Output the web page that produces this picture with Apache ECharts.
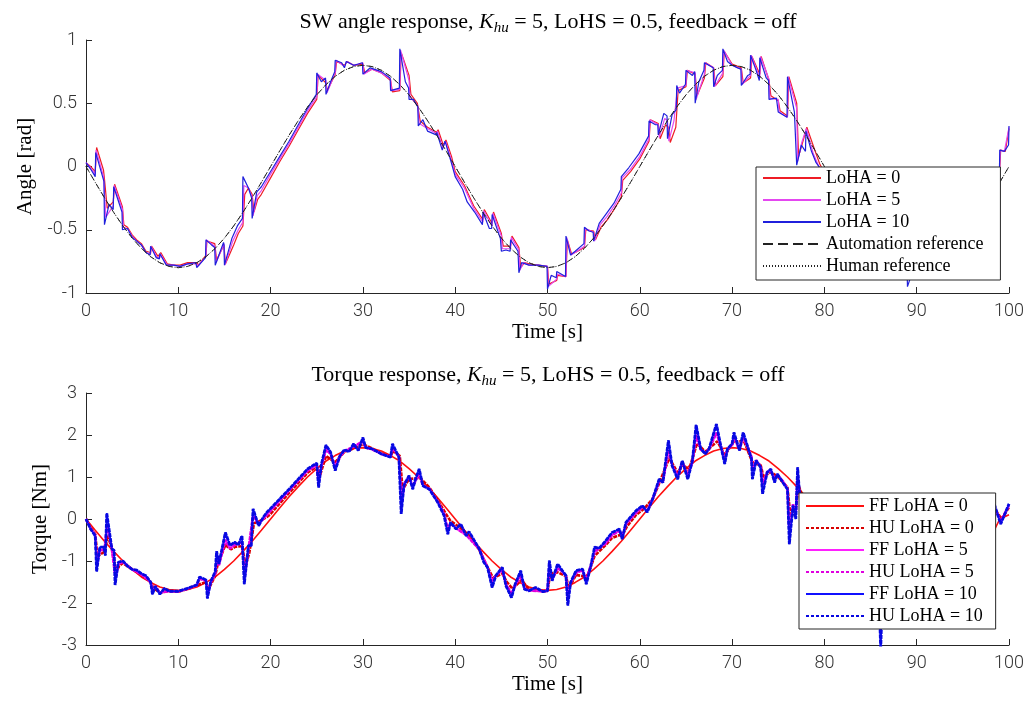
<!DOCTYPE html>
<html>
<head>
<meta charset="utf-8">
<script src="https://cdn.jsdelivr.net/npm/echarts@6.0.0/dist/echarts.min.js"></script>
<style>
  html, body { margin: 0; padding: 0; background: #fff; }
  #chart { width: 1030px; height: 702px; }
</style>
</head>
<body>
<div id="chart"></div>
<script>
// ---- data ----
// 1 s grid for the reference curves
const timeGrid = Array.from({ length: 101 }, (_, i) => i);

const angleRef = [
  0, -0.125, -0.247, -0.363, -0.470, -0.566, -0.647, -0.713, -0.761, -0.790, -0.800,
  -0.790, -0.761, -0.713, -0.647, -0.566, -0.470, -0.363, -0.247, -0.125, 0,
  0.125, 0.247, 0.363, 0.470, 0.566, 0.647, 0.713, 0.761, 0.790, 0.800,
  0.790, 0.761, 0.713, 0.647, 0.566, 0.470, 0.363, 0.247, 0.125, 0,
  -0.125, -0.247, -0.363, -0.470, -0.566, -0.647, -0.713, -0.761, -0.790, -0.800,
  -0.790, -0.761, -0.713, -0.647, -0.566, -0.470, -0.363, -0.247, -0.125, 0,
  0.125, 0.247, 0.363, 0.470, 0.566, 0.647, 0.713, 0.761, 0.790, 0.800,
  0.790, 0.761, 0.713, 0.647, 0.566, 0.470, 0.363, 0.247, 0.125, 0,
  -0.125, -0.247, -0.363, -0.470, -0.566, -0.647, -0.713, -0.761, -0.790, -0.800,
  -0.790, -0.761, -0.713, -0.647, -0.566, -0.470, -0.363, -0.247, -0.125, 0
];

// [time, angle]
const angleLoHA10 = [
  [0,0.03],[0.5,-0.02],[1,-0.08],[1.05,0.11],[1.95,-0.12],[2,-0.46],[2.5,-0.30],[2.95,-0.34],[3,-0.16],
  [3.9,-0.36],[3.95,-0.50],[4.5,-0.49],[5,-0.56],[5.5,-0.59],[6,-0.62],[6.5,-0.68],[6.95,-0.70],[7,-0.63],
  [7.6,-0.72],[7.95,-0.73],[8,-0.69],[8.7,-0.78],[9.5,-0.78],[10.2,-0.79],[11,-0.77],[11.9,-0.76],[12,-0.80],
  [12.95,-0.72],[13,-0.58],[13.6,-0.62],[13.95,-0.64],[14,-0.78],[14.9,-0.60],[14.95,-0.62],[15,-0.78],
  [15.8,-0.57],[16.4,-0.47],[16.95,-0.41],[17,-0.08],[17.6,-0.17],[17.95,-0.25],[18,-0.41],[18.5,-0.20],
  [19,-0.16],[20,-0.04],[21,0.08],[22,0.20],[23,0.33],[24,0.46],[24.95,0.57],[25,0.74],[25.5,0.67],
  [25.95,0.70],[26,0.57],[26.5,0.67],[26.95,0.75],[27,0.84],[27.7,0.82],[28,0.78],[28.2,0.83],[29,0.80],
  [29.5,0.81],[29.95,0.82],[30,0.73],[30.8,0.78],[32,0.75],[32.95,0.70],[33,0.60],[33.95,0.62],[34,0.93],
  [34.6,0.67],[34.95,0.62],[35,0.53],[35.5,0.53],[35.95,0.47],[36,0.32],[36.5,0.37],[37,0.28],[37.95,0.25],
  [38,0.27],[38.6,0.13],[38.9,0.20],[39.5,0.05],[40,-0.08],[40.8,-0.18],[41.3,-0.28],[42.1,-0.36],
  [42.95,-0.46],[43,-0.36],[43.7,-0.49],[43.95,-0.49],[44,-0.38],[44.9,-0.57],[45,-0.67],[45.5,-0.66],
  [45.95,-0.67],[46,-0.58],[46.8,-0.67],[46.9,-0.84],[47.2,-0.76],[48,-0.78],[49,-0.78],[49.95,-0.79],
  [50,-0.97],[50.4,-0.86],[50.95,-0.88],[51,-0.83],[51.95,-0.87],[52,-0.55],[52.5,-0.70],[53,-0.67],
  [53.95,-0.61],[54,-0.48],[54.5,-0.51],[54.95,-0.52],[55,-0.59],[55.6,-0.45],[56.3,-0.38],[57.2,-0.29],
  [57.95,-0.18],[58,-0.08],[58.8,-0.01],[59.9,0.10],[60.95,0.24],[61,0.36],[61.7,0.33],[61.95,0.33],
  [62,0.25],[62.6,0.42],[62.95,0.40],[63,0.22],[63.5,0.41],[63.95,0.45],[64,0.64],[64.3,0.58],[64.95,0.65],
  [65,0.76],[65.7,0.72],[65.95,0.75],[66,0.50],[66.4,0.67],[66.95,0.76],[67,0.82],[67.95,0.78],[68,0.63],
  [68.4,0.72],[68.95,0.76],[69,0.93],[69.5,0.83],[70,0.80],[70.6,0.78],[70.95,0.77],[71,0.64],[71.7,0.72],
  [71.95,0.73],[72,0.88],[72.6,0.76],[72.95,0.68],[73,0.86],[73.7,0.70],[73.95,0.68],[74,0.53],[74.8,0.54],
  [74.95,0.54],[75,0.43],[75.95,0.39],[76,0.71],[76.75,0.43],[76.95,0.42],[77,0.01],[77.5,0.17],[77.95,0.12],
  [78,0.28],[78.6,0.12],[79.1,0.03],[80,-0.06],[81,-0.15],[82,-0.25],[83,-0.36],[84,-0.47],[85,-0.56],
  [86,-0.64],[87,-0.71],[88,-0.76],[88.95,-0.78],[89,-0.95],[89.5,-0.84],[90,-0.79],[91,-0.78],[92,-0.75],
  [93,-0.70],[94,-0.64],[95,-0.56],[96,-0.46],[97,-0.35],[98,-0.24],[98.95,-0.10],[99,0.13],[99.5,0.12],
  [99.95,0.17],[100,0.32]
];

const angleLoHA5 = [
  [0,0.03],[0.5,-0.01],[1,-0.06],[1.1,0.13],[1.9,-0.08],[2,-0.20],[2.15,-0.40],[2.95,-0.31],[3.05,-0.15],
  [3.95,-0.34],[4.05,-0.48],[4.5,-0.49],[5,-0.55],[5.5,-0.59],[6,-0.62],[6.5,-0.68],[7,-0.69],[7.05,-0.63],
  [7.7,-0.72],[8,-0.72],[8.05,-0.69],[8.8,-0.78],[9.5,-0.78],[10.2,-0.79],[11,-0.77],[12,-0.77],[12.1,-0.79],
  [13,-0.71],[13.05,-0.58],[13.95,-0.63],[14.1,-0.76],[14.95,-0.61],[15.05,-0.78],[15.9,-0.59],[16.5,-0.50],
  [17,-0.44],[17.1,-0.15],[17.6,-0.17],[18,-0.24],[18.1,-0.39],[18.55,-0.23],[19,-0.19],[20,-0.06],
  [21,0.06],[22,0.18],[23,0.31],[24,0.44],[25,0.55],[25.1,0.73],[26,0.68],[26.1,0.58],[27,0.74],[27.1,0.84],
  [28,0.79],[28.25,0.83],[29,0.80],[30,0.82],[30.1,0.73],[31,0.77],[32,0.74],[33,0.69],[33.1,0.60],
  [34,0.61],[34.08,0.92],[35,0.68],[35.1,0.55],[35.95,0.48],[36.1,0.34],[37,0.30],[38,0.26],[38.08,0.28],
  [38.65,0.15],[38.95,0.20],[39.55,0.06],[40,-0.06],[41,-0.17],[42,-0.33],[43,-0.44],[43.08,-0.35],
  [44,-0.47],[44.08,-0.37],[45,-0.55],[45.1,-0.65],[46,-0.65],[46.08,-0.56],[46.9,-0.66],[47,-0.82],
  [47.4,-0.76],[48,-0.78],[49,-0.78],[50,-0.79],[50.08,-0.95],[51,-0.89],[51.05,-0.85],[52,-0.87],
  [52.08,-0.56],[52.55,-0.70],[53,-0.68],[54,-0.63],[54.08,-0.49],[55,-0.52],[55.1,-0.59],[55.7,-0.46],
  [56.4,-0.40],[57.25,-0.31],[58,-0.21],[58.08,-0.09],[58.9,-0.03],[60,0.08],[61,0.22],[61.08,0.37],
  [62,0.33],[62.1,0.23],[62.7,0.38],[63,0.36],[63.15,0.20],[63.7,0.36],[64.08,0.62],[65,0.64],[65.08,0.76],
  [66,0.74],[66.1,0.53],[67,0.73],[67.08,0.82],[68,0.78],[68.1,0.63],[69,0.74],[69.08,0.92],[70,0.80],
  [71,0.77],[71.1,0.65],[72,0.72],[72.08,0.88],[73,0.70],[73.08,0.87],[74,0.69],[74.1,0.54],[75,0.53],
  [75.1,0.43],[76,0.39],[76.08,0.71],[77,0.46],[77.1,0.04],[77.55,0.19],[78.05,0.30],[78.8,0.10],[79.4,0.00],
  [80,-0.06],[81,-0.15],[83,-0.36],[85,-0.56],[87,-0.71],[89,-0.80],[91,-0.78],[93,-0.70],[95,-0.56],
  [97,-0.35],[98.95,-0.09],[99.05,0.13],[99.5,0.12],[100,0.31]
];

const angleLoHA0 = [
  [0,0.03],[0.5,0.00],[1,-0.04],[1.15,0.15],[1.9,-0.03],[2,-0.10],[2.3,-0.33],[2.95,-0.28],[3.1,-0.14],
  [3.95,-0.32],[4.1,-0.46],[4.5,-0.48],[5,-0.54],[5.5,-0.58],[6,-0.61],[6.5,-0.67],[7,-0.68],[7.1,-0.63],
  [7.8,-0.71],[8,-0.71],[8.1,-0.68],[8.8,-0.77],[9.5,-0.78],[10.2,-0.78],[11,-0.76],[12,-0.76],[12.2,-0.78],
  [13,-0.70],[13.1,-0.59],[13.95,-0.61],[14.15,-0.74],[14.95,-0.62],[15.1,-0.77],[16,-0.62],[16.5,-0.53],
  [17,-0.47],[17.2,-0.22],[17.6,-0.17],[18,-0.22],[18.2,-0.36],[18.6,-0.26],[19,-0.22],[20,-0.09],
  [21,0.04],[22,0.16],[23,0.29],[24,0.42],[25,0.53],[25.15,0.72],[26,0.66],[26.15,0.60],[27,0.73],
  [27.15,0.83],[28,0.80],[28.3,0.83],[29,0.80],[30,0.81],[30.2,0.74],[31,0.77],[32,0.74],[33,0.68],
  [33.2,0.59],[34,0.60],[34.15,0.90],[35,0.72],[35.2,0.57],[35.9,0.50],[36.2,0.36],[37,0.31],[38,0.27],
  [38.15,0.29],[38.7,0.17],[39,0.21],[39.6,0.08],[40,-0.04],[41,-0.15],[42,-0.31],[43,-0.42],[43.15,-0.34],
  [44,-0.45],[44.15,-0.36],[45,-0.53],[45.2,-0.63],[46,-0.63],[46.15,-0.55],[46.9,-0.64],[47.1,-0.80],
  [47.5,-0.76],[48,-0.77],[49,-0.78],[50,-0.79],[50.15,-0.93],[51,-0.90],[51.1,-0.86],[52,-0.87],
  [52.15,-0.58],[52.6,-0.69],[53,-0.68],[54,-0.64],[54.15,-0.50],[55,-0.51],[55.2,-0.58],[55.8,-0.48],
  [56.5,-0.42],[57.3,-0.33],[58,-0.24],[58.15,-0.11],[59,-0.04],[60,0.06],[61,0.20],[61.15,0.37],
  [62,0.34],[62.2,0.22],[62.8,0.33],[63.1,0.31],[63.3,0.19],[63.9,0.31],[64.15,0.60],[65,0.63],[65.15,0.76],
  [66,0.73],[66.2,0.56],[67,0.70],[67.15,0.82],[68,0.78],[68.2,0.64],[69,0.71],[69.15,0.91],[70,0.81],
  [71,0.78],[71.2,0.66],[72,0.70],[72.15,0.87],[73,0.73],[73.15,0.87],[74,0.68],[74.2,0.56],[75,0.52],
  [75.2,0.44],[76,0.40],[76.15,0.71],[77,0.50],[77.2,0.08],[77.6,0.18],[78.1,0.31],[79,0.12],[79.5,0.02],
  [80,-0.05],[81,-0.15],[83,-0.36],[85,-0.56],[87,-0.71],[89,-0.79],[91,-0.78],[93,-0.70],[95,-0.56],
  [97,-0.35],[98.95,-0.08],[99.1,0.13],[99.6,0.12],[100,0.30]
];

// FF torque for LoHA = 0 on the 1 s grid
const torqueFF0 = [
  0, -0.27, -0.53, -0.77, -1.00, -1.20, -1.38, -1.51, -1.62, -1.68, -1.70,
  -1.68, -1.62, -1.51, -1.38, -1.20, -1.00, -0.77, -0.53, -0.27, 0,
  0.27, 0.53, 0.77, 1.00, 1.20, 1.38, 1.51, 1.62, 1.68, 1.70,
  1.68, 1.62, 1.51, 1.38, 1.20, 1.00, 0.77, 0.53, 0.27, 0,
  -0.27, -0.53, -0.77, -1.00, -1.20, -1.38, -1.51, -1.62, -1.68, -1.70,
  -1.68, -1.62, -1.51, -1.38, -1.20, -1.00, -0.77, -0.53, -0.27, 0,
  0.27, 0.53, 0.77, 1.00, 1.20, 1.38, 1.51, 1.62, 1.68, 1.70,
  1.68, 1.62, 1.51, 1.38, 1.20, 1.00, 0.77, 0.53, 0.27, 0,
  -0.27, -0.53, -0.77, -1.00, -1.20, -1.38, -1.51, -1.62, -1.68, -1.70,
  -1.68, -1.62, -1.51, -1.38, -1.20, -1.00, -0.77, -0.45, 0.00, 0.10
];

// [time, torque]
const torqueLoHA10 = [
  [0,0],[0.5,-0.24],[1,-0.40],[1.15,-1.25],[1.5,-0.67],[1.95,-0.67],[2.1,-0.87],[2.25,0.14],[2.8,-0.71],
  [3.05,-0.75],[3.15,-1.57],[3.5,-1.03],[4,-1.00],[4.5,-1.12],[5,-1.20],[5.5,-1.22],[6,-1.30],[6.5,-1.35],
  [7,-1.50],[7.2,-1.79],[7.5,-1.60],[8,-1.79],[8.5,-1.65],[9,-1.72],[10,-1.72],[11,-1.65],[12,-1.57],
  [12.3,-1.38],[13,-1.45],[13.15,-1.89],[13.5,-1.50],[14,-1.25],[14.15,-0.77],[14.4,-1.07],[15.1,-0.32],
  [15.6,-0.63],[16.1,-0.55],[16.5,-0.62],[16.9,-0.40],[17.15,-1.55],[17.6,-0.63],[17.9,-0.65],[18.1,0.24],
  [18.7,-0.16],[19.2,0.04],[19.6,0.16],[20,0.25],[21,0.48],[22,0.71],[23,0.95],[24,1.19],[25,1.33],
  [25.2,0.75],[25.5,1.30],[26,1.76],[26.5,1.59],[27,1.15],[27.5,1.50],[28,1.65],[28.5,1.60],[29,1.79],
  [29.5,1.63],[30,1.94],[30.3,1.70],[31,1.67],[32,1.55],[33,1.47],[33.2,1.79],[33.9,1.47],[34.15,0.12],
  [34.45,0.80],[35,1.03],[35.4,0.71],[35.7,0.95],[36.1,1.19],[36.5,0.79],[37.2,0.71],[38.1,0.40],[38.8,0.08],
  [39.2,-0.36],[39.5,-0.08],[40.1,-0.24],[40.6,-0.12],[41.2,-0.40],[41.5,-0.30],[42.6,-0.71],[43.1,-1.03],
  [43.5,-1.15],[44,-1.63],[44.4,-1.35],[45.1,-1.15],[45.5,-1.59],[46.1,-1.87],[46.5,-1.55],[47.1,-1.23],
  [47.5,-1.67],[48,-1.71],[48.7,-1.63],[49.5,-1.73],[50,-1.71],[50.2,-0.99],[50.5,-1.47],[51.1,-1.07],
  [51.6,-1.23],[52,-1.35],[52.2,-2.06],[52.5,-1.51],[53.1,-1.23],[53.8,-1.19],[54.2,-1.55],[54.7,-1.11],
  [55.1,-0.67],[55.6,-0.70],[56.3,-0.52],[57,-0.32],[57.8,-0.24],[58.1,-0.48],[58.5,-0.08],[59.6,0.20],
  [60.3,0.32],[60.8,0.16],[61.4,0.48],[62.1,0.95],[62.5,0.87],[63.1,1.87],[63.5,1.27],[64.1,0.95],
  [64.6,1.39],[65.2,0.95],[65.7,1.39],[66.1,2.24],[66.6,1.67],[67.1,1.55],[67.5,1.67],[68.3,2.26],
  [68.8,1.71],[69.2,1.31],[69.5,1.67],[70,1.79],[70.2,2.06],[70.8,1.63],[71.2,2.06],[71.7,1.71],[72.1,1.43],
  [72.2,0.95],[72.6,1.39],[73.1,1.23],[73.3,0.60],[73.8,1.11],[74.2,1.19],[74.6,0.87],[74.9,1.07],
  [75.5,0.87],[76,0.71],[76.2,-0.60],[76.6,0.32],[76.9,0.00],[77.1,1.23],[77.3,0.63],[77.8,0.40],
  [78.5,0.10],[79.5,-0.10],[80.5,-0.40],[81.5,-0.75],[82.5,-1.05],[83.5,-1.30],[84.5,-1.50],[85.5,-1.60],
  [85.9,-1.70],[86.1,-3.10],[86.3,-1.70],[87,-1.65],[88,-1.70],[89,-1.72],[90,-1.70],[91,-1.62],[92,-1.55],
  [93,-1.35],[94,-1.15],[95,-0.95],[96,-0.70],[97,-0.40],[98,0.00],[98.4,0.36],[99.1,-0.12],[100,0.36]
];

const torqueLoHA5 = [
  [0,0],[0.5,-0.22],[1,-0.38],[1.2,-1.05],[1.5,-0.75],[2,-0.72],[2.3,-0.12],[2.8,-0.72],[3.2,-1.40],
  [3.5,-1.08],[4,-1.02],[5,-1.20],[6,-1.32],[7,-1.50],[7.25,-1.72],[7.5,-1.60],[8,-1.75],[9,-1.72],
  [10,-1.73],[11,-1.66],[12,-1.58],[12.3,-1.42],[13,-1.47],[13.2,-1.78],[13.5,-1.52],[14,-1.30],
  [14.2,-0.92],[14.4,-1.10],[15.1,-0.50],[15.6,-0.70],[16.1,-0.62],[16.9,-0.55],[17.2,-1.35],[17.6,-0.72],
  [18.1,0.08],[18.7,-0.12],[19.6,0.10],[20,0.20],[22,0.68],[24,1.15],[25,1.28],[25.2,0.88],[25.5,1.25],
  [26,1.65],[26.5,1.55],[27,1.25],[27.5,1.48],[28,1.62],[29,1.72],[30,1.85],[30.3,1.70],[31,1.66],
  [32,1.55],[33,1.48],[33.2,1.70],[33.9,1.48],[34.2,0.40],[34.5,0.85],[35,1.00],[35.4,0.78],[36.1,1.08],
  [36.5,0.80],[37.2,0.72],[38.1,0.42],[38.8,0.12],[39.2,-0.25],[39.5,-0.10],[40.1,-0.22],[41.2,-0.38],
  [42.6,-0.72],[43.5,-1.15],[44,-1.48],[44.4,-1.35],[45.1,-1.22],[45.5,-1.55],[46.1,-1.78],[46.5,-1.58],
  [47.1,-1.35],[47.5,-1.65],[48,-1.70],[49.5,-1.72],[50,-1.71],[50.2,-1.15],[50.5,-1.45],[51.1,-1.17],
  [51.6,-1.25],[52,-1.35],[52.2,-1.85],[52.5,-1.52],[53.1,-1.28],[53.8,-1.22],[54.2,-1.45],[54.7,-1.10],
  [55.1,-0.78],[56.3,-0.58],[57,-0.38],[57.8,-0.28],[58.1,-0.42],[58.5,-0.12],[59.6,0.15],[60.3,0.28],
  [60.8,0.20],[61.4,0.48],[62.1,0.90],[62.5,0.88],[63.1,1.65],[63.5,1.28],[64.1,1.02],[64.6,1.35],
  [65.2,1.05],[65.7,1.35],[66.1,2.00],[66.6,1.65],[67.1,1.58],[67.5,1.66],[68.3,2.05],[68.8,1.72],
  [69.2,1.42],[69.5,1.66],[70,1.76],[70.2,1.95],[70.8,1.65],[71.2,1.95],[71.7,1.70],[72.1,1.48],[72.2,1.15],
  [72.6,1.40],[73.1,1.25],[73.3,0.82],[73.8,1.12],[74.2,1.15],[74.6,0.95],[74.9,1.05],[75.5,0.90],[76,0.72],
  [76.2,-0.25],[76.6,0.35],[76.9,0.12],[77.1,1.00],[77.3,0.60],[78.5,0.05],[80.5,-0.40],[82.5,-1.05],
  [84.5,-1.50],[86.1,-2.60],[86.4,-1.70],[88,-1.70],[90,-1.70],[92,-1.55],[94,-1.15],[96,-0.70],[98,0.00],
  [98.4,0.30],[99.1,-0.05],[100,0.32]
];

const torqueLoHA0 = [
  [0,0],[0.5,-0.20],[1,-0.36],[1.25,-0.90],[1.5,-0.85],[2,-0.78],[2.35,-0.40],[2.8,-0.70],[3.25,-1.25],
  [3.6,-1.12],[4,-1.05],[5,-1.20],[6,-1.33],[7,-1.50],[7.3,-1.65],[8,-1.75],[9,-1.72],[10,-1.73],
  [11,-1.67],[12,-1.58],[13,-1.50],[13.25,-1.68],[14,-1.35],[14.3,-1.05],[15.1,-0.62],[15.7,-0.72],
  [16.2,-0.66],[16.9,-0.65],[17.3,-1.10],[17.7,-0.80],[18.2,-0.10],[18.8,-0.05],[19.6,0.05],[20,0.12],
  [22,0.62],[24,1.10],[25,1.25],[25.3,1.00],[26,1.50],[27,1.35],[28,1.60],[29,1.68],[30,1.78],[31,1.68],
  [32,1.56],[33,1.50],[33.3,1.62],[34,1.50],[34.3,0.70],[35,0.95],[36.2,0.98],[37.2,0.75],[38.1,0.45],
  [39,0.12],[39.5,-0.05],[40.5,-0.20],[41.5,-0.40],[42.6,-0.73],[43.5,-1.15],[44.1,-1.40],[45.1,-1.30],
  [45.6,-1.50],[46.2,-1.66],[47.2,-1.45],[48,-1.68],[49.5,-1.72],[50,-1.71],[50.3,-1.30],[51.1,-1.27],
  [52,-1.36],[52.3,-1.65],[53.1,-1.33],[54.3,-1.38],[55.1,-0.88],[56.3,-0.62],[57,-0.45],[58.2,-0.35],
  [58.6,-0.18],[59.6,0.10],[60.5,0.25],[61.4,0.48],[62.1,0.85],[63.2,1.45],[64.1,1.10],[64.7,1.30],
  [65.3,1.15],[66.2,1.80],[67.1,1.60],[68.4,1.85],[69.2,1.52],[70.2,1.85],[71.3,1.85],[72.2,1.35],
  [73.1,1.28],[73.4,1.00],[74.2,1.12],[75,1.00],[76,0.75],[76.3,0.10],[76.9,0.25],[77.2,0.80],[78.5,0.00],
  [80.5,-0.40],[82.5,-1.05],[84.5,-1.50],[86.2,-2.20],[88,-1.70],[90,-1.70],[92,-1.55],[94,-1.15],
  [96,-0.70],[98,-0.10],[98.5,0.22],[99.2,0.00],[100,0.28]
];

const angleTicks = { min: -1, max: 1, interval: 0.5 };
const torqueTicks = { min: -3, max: 3, interval: 1 };
const timeTicks = { min: 0, max: 100, interval: 10 };

// ---- styling ----
const serif = '"Liberation Serif", "DejaVu Serif", serif';
const sans = 'Roboto, "Liberation Sans", sans-serif';
const axisColor = '#262626';

const titleRich = {
  r: { fontFamily: serif, fontSize: 22, fontWeight: 'normal', color: '#000', lineHeight: 28 },
  i: { fontFamily: serif, fontSize: 22, fontWeight: 'normal', fontStyle: 'italic', color: '#000', lineHeight: 28 },
  s: { fontFamily: serif, fontSize: 15, fontWeight: 'normal', fontStyle: 'italic', color: '#000', lineHeight: 15, verticalAlign: 'bottom' }
};

const axisCommon = {
  type: 'value',
  nameLocation: 'middle',
  nameTextStyle: { fontFamily: serif, fontSize: 21, color: '#000' },
  axisLine: { show: true, onZero: false, lineStyle: { color: axisColor, width: 1 } },
  axisTick: { show: true, inside: true, length: 6, lineStyle: { color: axisColor, width: 1 } },
  axisLabel: { fontFamily: sans, fontSize: 18, fontWeight: 300, color: '#333', margin: 9 },
  splitLine: { show: false }
};

const xAxisAt = (gridIndex) => ({
  ...axisCommon,
  ...timeTicks,
  gridIndex,
  name: 'Time [s]',
  nameGap: 29
});

const onGrid = (values) => values.map((v, i) => [timeGrid[i], v]);

const lineSeries = (name, data, grid, color, width, type) => ({
  name,
  type: 'line',
  xAxisIndex: grid,
  yAxisIndex: grid,
  data,
  showSymbol: false,
  symbol: 'none',
  clip: true,
  color,
  lineStyle: { color, width, type: type || 'solid' }
});

const legendCommon = {
  orient: 'vertical',
  itemGap: 0, itemWidth: 58, itemHeight: 2,
  itemStyle: { opacity: 0 },
  backgroundColor: '#fff', borderColor: axisColor, borderWidth: 1, borderRadius: 0,
  textStyle: { fontFamily: serif, fontSize: 18, color: '#000', lineHeight: 22 },
  selectedMode: false
};

const option = {
  animation: false,
  backgroundColor: '#fff',
  title: [
    {
      text: '{r|SW angle response, }{i|K}{s|hu}{r| = 5, LoHS = 0.5, feedback = off}',
      left: 548, top: 8, textAlign: 'center', padding: 0,
      textStyle: { rich: titleRich }
    },
    {
      text: '{r|Torque response, }{i|K}{s|hu}{r| = 5, LoHS = 0.5, feedback = off}',
      left: 548, top: 361, textAlign: 'center', padding: 0,
      textStyle: { rich: titleRich }
    }
  ],
  grid: [
    { left: 86, top: 40, width: 923, height: 253 },
    { left: 86, top: 393, width: 923, height: 252 }
  ],
  xAxis: [xAxisAt(0), xAxisAt(1)],
  yAxis: [
    { ...axisCommon, ...angleTicks, gridIndex: 0, name: 'Angle [rad]', nameGap: 50 },
    { ...axisCommon, ...torqueTicks, gridIndex: 1, name: 'Torque [Nm]', nameGap: 35 }
  ],
  legend: [
    {
      ...legendCommon,
      data: [
        'LoHA = 0', 'LoHA = 5', 'LoHA = 10',
        { name: 'Automation reference', lineStyle: { type: [10, 5] } },
        'Human reference'
      ],
      left: 756, top: 167, padding: [0, 17, 3, 6]
    },
    {
      ...legendCommon,
      data: [
        'FF LoHA = 0',
        { name: 'HU LoHA = 0', lineStyle: { type: [3, 2] } },
        'FF LoHA = 5',
        { name: 'HU LoHA = 5', lineStyle: { type: [3, 2] } },
        'FF LoHA = 10',
        { name: 'HU LoHA = 10', lineStyle: { type: [3, 2] } }
      ],
      left: 799, top: 493, padding: [2, 13, 2, 6]
    }
  ],
  series: [
    lineSeries('LoHA = 0', angleLoHA0, 0, '#ee1c25', 1.2),
    lineSeries('LoHA = 5', angleLoHA5, 0, '#e448f0', 1.2),
    lineSeries('LoHA = 10', angleLoHA10, 0, '#2020dc', 1.2),
    lineSeries('Automation reference', onGrid(angleRef), 0, '#222', 1, [6, 4]),
    lineSeries('Human reference', onGrid(angleRef), 0, '#222', 1, [1, 2]),

    lineSeries('FF LoHA = 0', onGrid(torqueFF0), 1, '#ff1010', 1.6),
    lineSeries('HU LoHA = 0', torqueLoHA0, 1, '#d80000', 2.6, [4, 1]),
    lineSeries('FF LoHA = 5', torqueLoHA5, 1, '#ff20ff', 1.6),
    lineSeries('HU LoHA = 5', torqueLoHA5, 1, '#e000e0', 2.6, [4, 1]),
    lineSeries('FF LoHA = 10', torqueLoHA10, 1, '#1010ff', 1.6),
    lineSeries('HU LoHA = 10', torqueLoHA10, 1, '#0808e0', 2.8, [4, 1])
  ]
};

const chart = echarts.init(document.getElementById('chart'));
chart.setOption(option);
window.addEventListener('resize', () => chart.resize());
</script>
</body>
</html>
